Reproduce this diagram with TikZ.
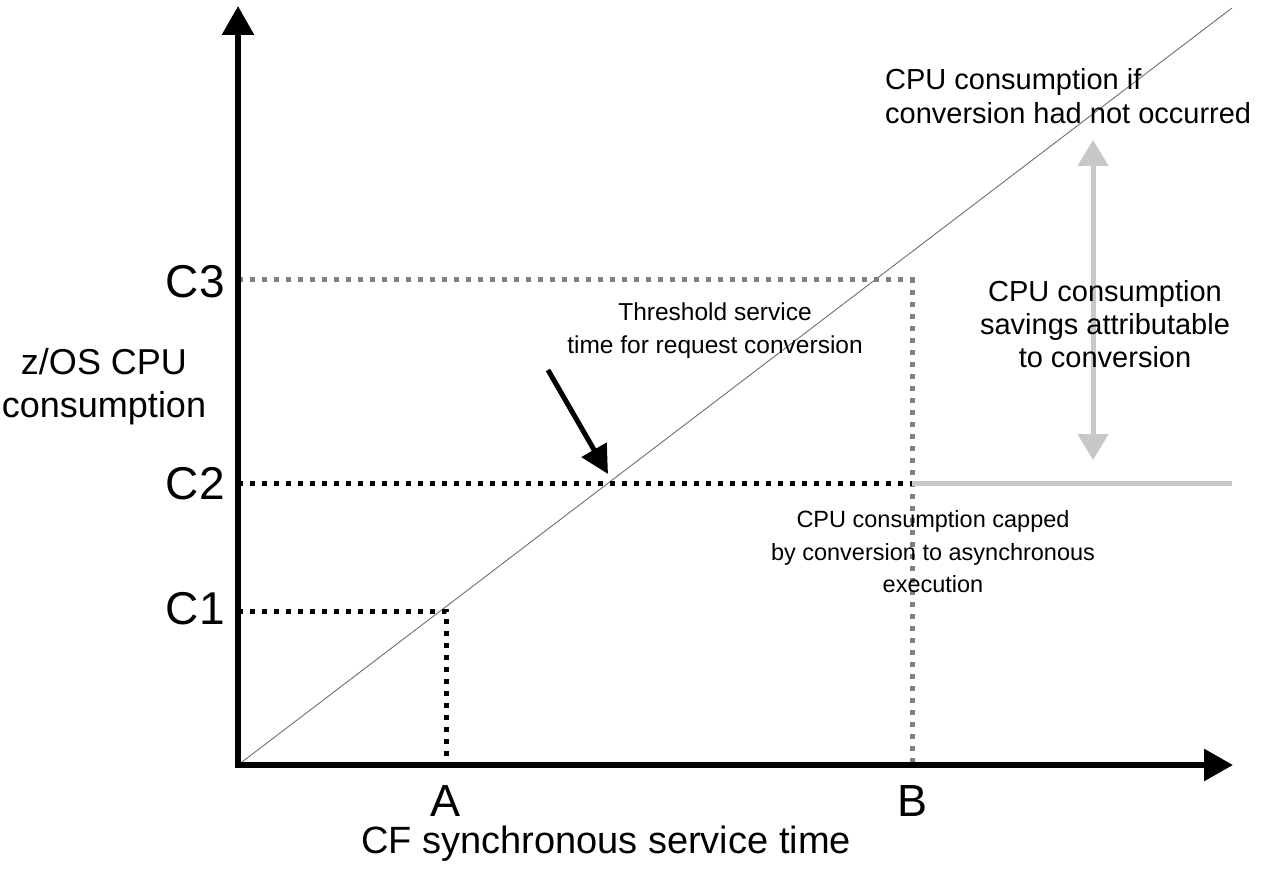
\documentclass[tikz,border=0pt]{standalone}
\usepackage{fontspec}
\setmainfont{Liberation Sans}
\usetikzlibrary{arrows.meta}
\definecolor{dotgray}{RGB}{128,128,128}
\definecolor{lightg}{RGB}{200,200,200}
\definecolor{diag}{RGB}{110,110,110}
\begin{document}
\begin{tikzpicture}[x=1pt,y=-1pt,
  axis/.style={line width=6pt,-{Triangle[length=29pt,width=31pt]}},
  blackdots/.style={line width=5pt,dash pattern=on 5pt off 7pt,black},
  graydots/.style={line width=5pt,dash pattern=on 5pt off 7pt,dotgray},
  tick/.style={font=\fontsize{46}{50}\selectfont,inner sep=0pt},
  note/.style={font=\fontsize{24.5}{33}\selectfont,align=center,inner sep=0pt},
  axlabel/.style={font=\fontsize{38}{44}\selectfont,align=center,inner sep=0pt}]
\useasboundingbox (0,0) rectangle (1269,874);
% coordinates
\coordinate (O) at (238,765);
\coordinate (Ytip) at (238,6);
\coordinate (Xtip) at (1233,765);
\coordinate (Dend) at (1232,8);
\coordinate (C1y) at (238,611);
\coordinate (C2y) at (238,483);
\coordinate (C3y) at (238,280);
\coordinate (P1) at (446,611);
\coordinate (Ax) at (446,765);
\coordinate (P2) at (912,483);
\coordinate (P3) at (912,280);
\coordinate (Bx) at (912,765);
\coordinate (C2end) at (1232,483);
\coordinate (SavTop) at (1093,140);
\coordinate (SavBot) at (1093,460);
\coordinate (ThrStart) at (548,370);
\coordinate (ThrTip) at (608,474);
% diagonal
\draw[diag,line width=0.9pt] (O) -- (Dend);
% dotted guides
\draw[graydots] (C3y) -- (P3) -- (Bx);
\draw[blackdots] (C2y) -- (P2);
\draw[lightg,line width=5pt] (P2) -- (C2end);
\draw[blackdots] (C1y) -- (P1) -- (Ax);
% axes
\draw[axis] (O) -- (Ytip);
\draw[axis] ([xshift=-3pt]O) -- (Xtip);
% savings arrow
\draw[lightg,line width=5pt,{Triangle[length=26pt,width=30pt]}-{Triangle[length=26pt,width=30pt]}] (SavTop) -- (SavBot);
% threshold arrow
\draw[line width=5pt,-{Triangle[length=28pt,width=28pt]}] (ThrStart) -- (ThrTip);
% tick labels
\node[tick,anchor=east] (lC3) at (225,282) {C3};
\node[tick,anchor=east] (lC2) at (225,484) {C2};
\node[tick,anchor=east] (lC1) at (225,609) {C1};
\node[tick,font=\fontsize{45}{50}\selectfont] (lA) at (446,801) {A};
\node[tick,font=\fontsize{45}{50}\selectfont] (lB) at (912,801) {B};
% axis labels
\node[axlabel] (xl) at (606,844) {CF synchronous service time};
\node[note,font=\fontsize{36}{43}\selectfont] (yl) at (104,387) {z/OS CPU\\consumption};
% notes
\node[note] (thr) at (715,331) {Threshold service\\time for request conversion};
\node[note,font=\fontsize{29}{34}\selectfont,align=left,anchor=north west] (ifn) at (885,68) {CPU consumption if\\conversion had not occurred};
\node[note,font=\fontsize{29}{33}\selectfont] (sav) at (1105,324) {CPU consumption\\savings attributable\\to conversion};
\node[note,font=\fontsize{23.5}{32.5}\selectfont] (cap) at (933,552) {CPU consumption capped\\by conversion to asynchronous\\execution};
\end{tikzpicture}
\end{document}
